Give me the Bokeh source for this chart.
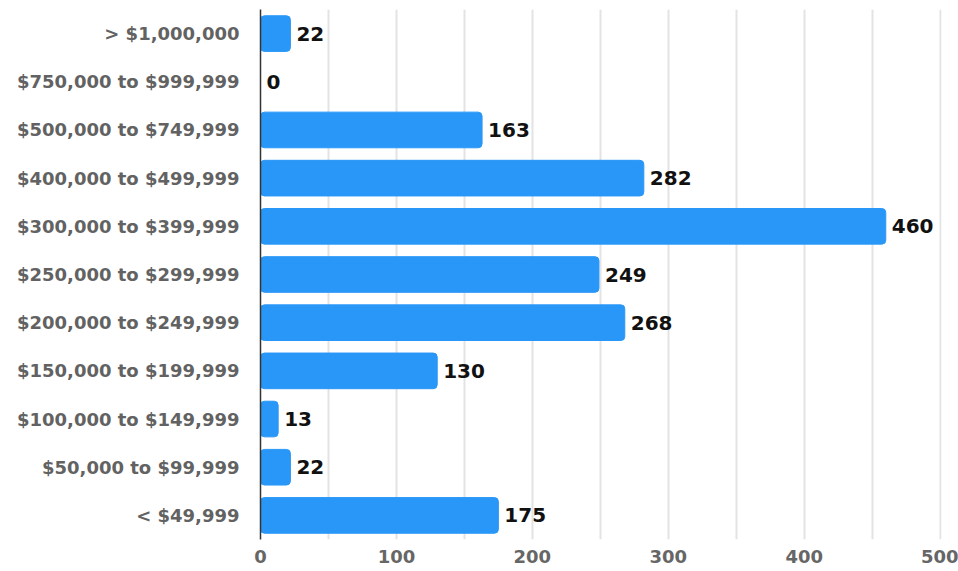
from bokeh.plotting import figure
from bokeh.models import ColumnDataSource, FixedTicker, Range1d
from bokeh.embed import file_html
from bokeh.resources import INLINE
from bokeh.core.properties import value

categories = ["> $1,000,000", "$750,000 to $999,999", "$500,000 to $749,999",
              "$400,000 to $499,999", "$300,000 to $399,999", "$250,000 to $299,999",
              "$200,000 to $249,999", "$150,000 to $199,999", "$100,000 to $149,999",
              "$50,000 to $99,999", "< $49,999"]
counts = [22, 0, 163, 282, 460, 249, 268, 130, 13, 22, 175]
x_ticks = [0, 100, 200, 300, 400, 500]
grid_ticks = [0, 50, 100, 150, 200, 250, 300, 350, 400, 450, 500]

src = ColumnDataSource(dict(cat=categories, val=counts, lbl=[str(v) for v in counts]))

p = figure(width=958, height=571, y_range=list(reversed(categories)),
           x_range=Range1d(0, 501), output_backend="svg", toolbar_location=None,
           min_border_left=260, min_border_right=17, min_border_top=9, min_border_bottom=32)
p.outline_line_color = None

p.hbar(y="cat", right="val", left=0, height=0.74, source=src,
       fill_color="#2997F8", line_color="#2997F8", border_radius=4)

p.text(x="val", y="cat", text="lbl", source=src, x_offset=6,
       text_align="left", text_baseline="middle", text_color="#111111",
       text_font=value("DejaVu Sans"), text_font_size="20px", text_font_style="bold")

p.xaxis.ticker = FixedTicker(ticks=x_ticks)
p.xgrid.ticker = FixedTicker(ticks=grid_ticks)
p.xgrid.grid_line_color = "#e3e3e3"
p.xgrid.grid_line_width = 2
p.ygrid.grid_line_color = None

p.xaxis.axis_line_color = None
p.xaxis.major_tick_line_color = None
p.xaxis.minor_tick_line_color = None
p.xaxis.major_label_text_font = "DejaVu Sans"
p.xaxis.major_label_text_font_style = "bold"
p.xaxis.major_label_text_font_size = "18px"
p.xaxis.major_label_text_color = "#666666"
p.xaxis.major_label_standoff = 4

p.yaxis.axis_line_color = "#333333"
p.yaxis.axis_line_width = 1.5
p.yaxis.major_tick_line_color = None
p.yaxis.minor_tick_line_color = None
p.yaxis.major_label_text_font = "DejaVu Sans"
p.yaxis.major_label_text_font_style = "bold"
p.yaxis.major_label_text_font_size = "18px"
p.yaxis.major_label_text_color = "#626262"
p.yaxis.major_label_standoff = 15

open("out.html", "w").write(file_html(p, INLINE))
